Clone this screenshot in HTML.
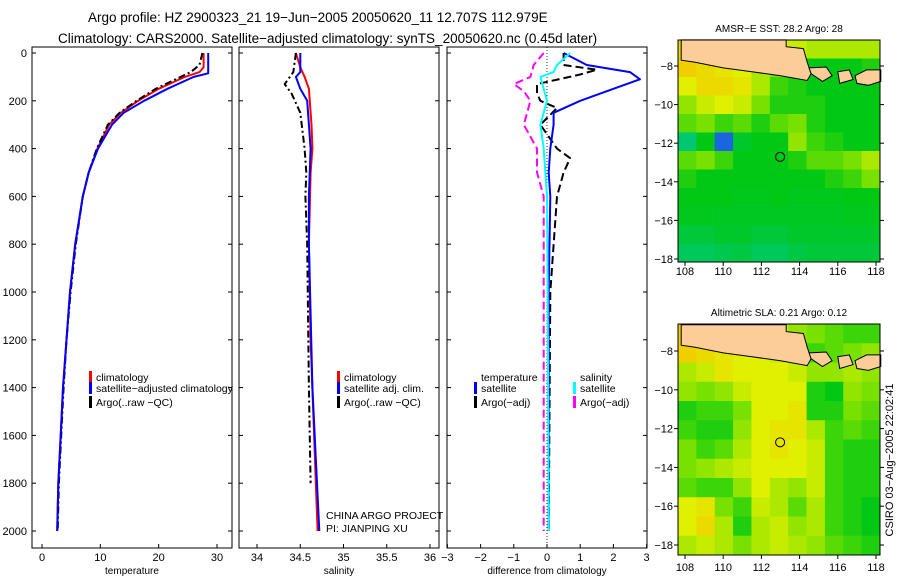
<!DOCTYPE html>
<html><head><meta charset="utf-8"><style>
html,body{margin:0;padding:0;background:#fff}
svg{display:block;font-family:"Liberation Sans",sans-serif}
</style></head><body>
<svg id="fig" width="900" height="580" viewBox="0 0 900 580">
<text x="88" y="22" font-size="13.5">Argo profile: HZ 2900323_21 19−Jun−2005 20050620_11 12.707S 112.979E</text>
<text x="58" y="43" font-size="13.5">Climatology: CARS2000. Satellite−adjusted climatology: synTS_20050620.nc (0.45d later)</text>
<g id="g"></g>
</svg>
<script>
// ---- profile data ----
const tDepC=[0,60,80,100,150,200,250,300,400,500,600,800,1000,1200,1400,1600,1800,2000];
const tClim=[27.7,27.7,27,24.5,20,16.5,13.5,11.5,9.5,8,7,5.7,4.8,4.2,3.6,3.2,2.8,2.6];
const tDepS=[0,85,100,150,200,250,300,400,500,600,800,1000,1200,1400,1600,1800,2000];
const tSat=[28.5,28.5,26,21.5,17.5,14,12,9.6,8,7,5.7,4.8,4.2,3.6,3.2,2.8,2.6];
const tDepA=[0,50,80,150,200,250,300,400,500,600,800,1000,1200,1400,1600,1800,2000];
const tArgo=[27.5,27,25.5,19.5,16.2,13.3,11.3,9.4,8,7,5.8,4.9,4.2,3.7,3.3,2.9,2.7];

const sDepC=[0,60,100,150,300,400,500,800,1200,1600,2000];
const sClim=[34.45,34.5,34.55,34.6,34.63,34.64,34.62,34.6,34.62,34.66,34.7];
const sDepS=[0,80,100,150,200,300,400,600,800,1400,2000];
const sSat=[34.5,34.5,34.45,34.5,34.58,34.6,34.62,34.6,34.6,34.64,34.72];
const sDepA=[0,80,130,170,250,400,500,600,800,1400,1800];
const sArgo=[34.45,34.42,34.32,34.4,34.5,34.55,34.57,34.56,34.58,34.6,34.62];

const dDepT=[0,50,80,110,150,200,250,300,400,500,600,1000,2000];
const dTsat=[0.5,1.2,2.5,2.8,2.0,1.0,0.2,0.2,0.1,0.05,0.1,0.05,0.05];
const dDepTA=[0,50,70,90,130,170,200,230,300,400,440,500,600,1000,2000];
const dTargo=[0.5,0.5,1.5,1.0,-0.3,-0.3,-0.2,0.3,-0.2,0.3,0.7,0.5,0.3,0.1,0.05];
const dDepSS=[0,50,80,100,150,200,300,400,600,1000,2000];
const dSsat=[0.7,0.3,0.2,-0.2,-0.1,0,-0.2,-0.1,0,0.02,0.05];
const dDepSA=[0,50,100,130,160,200,300,400,500,600,1000,2000];
const dSargo=[-0.1,-0.4,-0.5,-1.0,-0.7,-0.5,-0.7,-0.3,-0.3,-0.1,-0.1,-0.1];

const depthTicks=[0,200,400,600,800,1000,1200,1400,1600,1800,2000];
const tTicks=[0,10,20,30];
const sTicks=[34,34.5,35,35.5,36];
const dTicks=[-3,-2,-1,0,1,2,3];

// ---- map data (rows top->bottom, 11 cols), 0=teal .. 1=orange ----
const sstGrid=[
[0.8,0.8,0.75,0.7,0.7,0.7,0.65,0.6,0.6,0.6,0.6],
[0.85,0.8,0.75,0.7,0.6,0.5,0.4,0.3,0.3,0.3,0.35],
[0.7,0.8,0.8,0.75,0.6,0.4,0.35,0.3,0.3,0.3,0.3],
[0.55,0.65,0.7,0.65,0.5,0.35,0.35,0.35,0.3,0.3,0.3],
[0.45,0.5,0.4,0.45,0.35,0.45,0.5,0.35,0.3,0.3,0.3],
[0.1,0.3,0.05,0.25,0.3,0.3,0.55,0.4,0.35,0.3,0.3],
[0.45,0.5,0.4,0.3,0.3,0.3,0.35,0.45,0.45,0.5,0.6],
[0.35,0.3,0.3,0.3,0.3,0.3,0.3,0.3,0.35,0.4,0.5],
[0.3,0.3,0.3,0.28,0.28,0.3,0.28,0.28,0.28,0.3,0.3],
[0.28,0.28,0.27,0.27,0.27,0.27,0.27,0.27,0.27,0.28,0.28],
[0.22,0.22,0.25,0.25,0.22,0.22,0.25,0.25,0.25,0.25,0.25],
[0.15,0.15,0.18,0.2,0.15,0.15,0.2,0.22,0.22,0.22,0.22]];
const slaGrid=[
[0.85,0.8,0.75,0.7,0.7,0.65,0.55,0.5,0.45,0.4,0.4],
[0.85,0.8,0.75,0.7,0.7,0.65,0.55,0.4,0.45,0.5,0.55],
[0.6,0.65,0.75,0.7,0.7,0.7,0.65,0.55,0.55,0.6,0.55],
[0.55,0.5,0.55,0.65,0.7,0.7,0.7,0.35,0.3,0.55,0.5],
[0.35,0.4,0.4,0.5,0.7,0.7,0.75,0.35,0.35,0.5,0.45],
[0.4,0.35,0.35,0.55,0.7,0.75,0.75,0.6,0.4,0.45,0.4],
[0.5,0.4,0.45,0.6,0.7,0.75,0.7,0.65,0.4,0.35,0.35],
[0.5,0.55,0.6,0.65,0.7,0.7,0.7,0.65,0.4,0.35,0.35],
[0.45,0.4,0.4,0.55,0.7,0.6,0.55,0.65,0.4,0.35,0.35],
[0.7,0.75,0.5,0.4,0.65,0.6,0.45,0.6,0.4,0.35,0.3],
[0.7,0.8,0.6,0.35,0.6,0.65,0.55,0.6,0.4,0.35,0.3],
[0.6,0.65,0.6,0.5,0.6,0.65,0.6,0.55,0.45,0.4,0.35]];
const latTicks=[-8,-10,-12,-14,-16,-18];
const lonTicks=[108,110,112,114,116,118];
const argoLon=112.979, argoLat=-12.707;

const NS='http://www.w3.org/2000/svg';
const G=document.getElementById('g');
function el(tag,attrs,parent){const e=document.createElementNS(NS,tag);for(const k in attrs)e.setAttribute(k,attrs[k]);(parent||G).appendChild(e);return e;}
function txt(x,y,s,size,anchor,parent){const t=el('text',{x:x,y:y,'font-size':size,'text-anchor':anchor||'start'},parent);t.textContent=s;return t;}

const yD=d=>53+d*0.239;
const panels=[
 {x0:32,x1:232,vx:v=>42+v*5.833,ticks:tTicks,lab:'temperature',name:'temperature-panel'},
 {x0:239,x1:439,vx:v=>257+(v-34)*86.5,ticks:sTicks,lab:'salinity',name:'salinity-panel'},
 {x0:447,x1:647,vx:v=>547+v*33.2,ticks:dTicks,lab:'difference from climatology',name:'difference-panel'}];
panels.forEach((p,i)=>{
  const g=el('g',{});
  
  
  el('rect',{x:p.x0,y:47,width:p.x1-p.x0,height:501,fill:'none',stroke:'#000','stroke-width':1},g);
  p.ticks.forEach(v=>{const x=p.vx(v);el('line',{x1:x,x2:x,y1:548,y2:544,stroke:'#000'},g);
    const t=txt(x,561,String(v).replace('-','−'),11,'middle',g);
    
    });
  depthTicks.forEach(d=>{const y=yD(d);el('line',{x1:p.x0,x2:p.x0+4,y1:y,y2:y,stroke:'#000'},g);el('line',{x1:p.x1,x2:p.x1-4,y1:y,y2:y,stroke:'#000'},g);
    if(i===0){const t=txt(27,y+4,String(d),11,'end',g);
      
      }});
  const at=txt((p.x0+p.x1)/2,574,p.lab,10,'middle',g);
  
  
});
el('line',{x1:547,x2:547,y1:47,y2:548,stroke:'#000','stroke-dasharray':'1,2','stroke-width':0.8});

function line(p,deps,vals,color,dash,name,w){
  const pts=deps.map((d,k)=>p.vx(vals[k]).toFixed(1)+','+yD(d).toFixed(1)).join(' ');
  const l=el('polyline',{points:pts,fill:'none',stroke:color,'stroke-width':w||2,'stroke-dasharray':dash||'none','stroke-linejoin':'round'});
  
  
}
const [P1,P2,P3]=panels;
line(P1,tDepC,tClim,'#f00','', 'temp-climatology-line');
line(P1,tDepA,tArgo,'#000','7,3,2,3','temp-argo-line');
line(P1,tDepS,tSat,'#00f','', 'temp-satellite-line');
line(P2,sDepC,sClim,'#f00','', 'sal-climatology-line');
line(P2,sDepA,sArgo,'#000','7,3,2,3','sal-argo-line');
line(P2,sDepS,sSat,'#00f','', 'sal-satellite-line');
line(P3,dDepSA,dSargo,'#f0f','8,4','sal-argo-diff-line');
line(P3,dDepTA,dTargo,'#000','8,4','temp-argo-diff-line');
line(P3,dDepT,dTsat,'#00f','', 'temp-satellite-diff-line');
line(P3,dDepSS,dSsat,'#0ff','', 'sal-satellite-diff-line');

function leg(x,y,color,label){
  const g=el('g',{});
  
  
  if(color) el('rect',{x:x,y:y-10,width:3,height:12,fill:color},g);
  txt(x+7,y,label,10.5,'start',g);
}
leg(89,381,'#f00','climatology');leg(89,392,'#00f','satellite−adjusted climatology');leg(89,406,'#000','Argo(..raw −QC)');
leg(337,381,'#f00','climatology');leg(337,392,'#00f','satellite adj. clim.');leg(337,406,'#000','Argo(..raw −QC)');
leg(474,381,null,'temperature');leg(474,392,'#00f','satellite');leg(474,406,'#000','Argo(−adj)');
leg(573,381,null,'salinity');leg(573,392,'#0ff','satellite');leg(573,406,'#f0f','Argo(−adj)');
const c1=txt(326,519,'CHINA ARGO PROJECT',10.5,'start');


const c2=txt(326,532,'PI: JIANPING XU',10.5,'start');



// ---- maps ----
const stops=[[0,[0,200,160]],[0.3,[0,200,20]],[0.5,[120,225,0]],[0.7,[225,240,0]],[0.9,[245,195,0]],[1,[245,170,0]]];
function cmap(v){
  if(v<0.08) return '#1a66e0';
  for(let i=1;i<stops.length;i++){if(v<=stops[i][0]){const a=stops[i-1],b=stops[i],t=(v-a[0])/(b[0]-a[0]);
    return 'rgb('+a[1].map((c,k)=>Math.round(c+(b[1][k]-c)*t)).join(',')+')';}}
  return 'rgb(245,170,0)';
}
const land=[[107.8,-6.65],[113.3,-6.65],[113.3,-7.0],[114.2,-7.1],[114.4,-7.8],[114.6,-8.4],[114.4,-8.75],[113,-8.5],[111.5,-8.3],[110,-8.1],[108.5,-7.8],[107.8,-7.7]];
const islands=[[[114.5,-8.1],[115.4,-8.05],[115.7,-8.5],[115.2,-8.8],[114.6,-8.4]],
 [[116.0,-8.3],[116.6,-8.2],[116.8,-8.7],[116.1,-8.9]],
 [[116.9,-8.5],[117.5,-8.2],[118.25,-8.2],[118.25,-8.8],[117.6,-9.0],[117.0,-8.9]]];
function drawMap(top,bottom,lat8y,lat18y,grid,title,name,labOff){
  const g=el('g',{});
  
  
  const x0=678,x1=880;
  const lonX=lon=>685+(lon-108)*19.1;
  const k=(lat18y-lat8y)/10;
  const latY=lat=>lat8y+(-8-lat)*k;
  const latTop=-8+(lat8y-top)/k, latBot=-8-(bottom-lat8y)/k;
  const lonL=108+(x0-685)/19.1, lonR=108+(x1-685)/19.1;
  const rows=grid.length,cols=grid[0].length;
  const dLon=(lonR-lonL)/cols,dLat=(latTop-latBot)/rows;
  grid.forEach((row,r)=>row.forEach((v,c)=>{
    const xa=lonX(lonL+c*dLon),xb=lonX(lonL+(c+1)*dLon),ya=latY(latTop-r*dLat),yb=latY(latTop-(r+1)*dLat);
    const cell=el('rect',{x:xa,y:ya,width:xb-xa+0.5,height:yb-ya+0.5,fill:cmap(v)},g);
    
    
  }));
  [land,...islands].forEach(poly=>{
    const p=el('polygon',{points:poly.map(q=>lonX(q[0]).toFixed(1)+','+latY(q[1]).toFixed(1)).join(' '),fill:'#fccc99',stroke:'#000','stroke-width':1},g);
    
    
  });
  el('rect',{x:x0,y:top,width:x1-x0,height:bottom-top,fill:'none',stroke:'#000'},g);
  latTicks.forEach(l=>{const y=latY(l);el('line',{x1:x0-4,x2:x0,y1:y,y2:y,stroke:'#000'},g);el('line',{x1:x1,x2:x1+4,y1:y,y2:y,stroke:'#000'},g);
    txt(673,y+4,String(l).replace('-','−'),11,'end',g);});
  lonTicks.forEach(l=>{const x=lonX(l);el('line',{x1:x,x2:x,y1:bottom,y2:bottom+4,stroke:'#000'},g);
    txt(x,bottom+labOff,String(l),11,'middle',g);});
  const m=el('circle',{cx:lonX(argoLon),cy:latY(argoLat),r:4.5,fill:'none',stroke:'#000','stroke-width':1},g);
  
  
  const t=txt(779,top-8,title,10,'middle',g);
  
  
}
drawMap(40,262,66,259,sstGrid,'AMSR−E SST: 28.2 Argo: 28','sst-map',13);
drawMap(324,555,351,545,slaGrid,'Altimetric SLA: 0.21 Argo: 0.12','sla-map',16);
const stamp=txt(0,0,'CSIRO 03−Aug−2005 22:02:41',11,'middle');
stamp.setAttribute('transform','translate(893,460) rotate(-90)');


</script>
</body></html>
